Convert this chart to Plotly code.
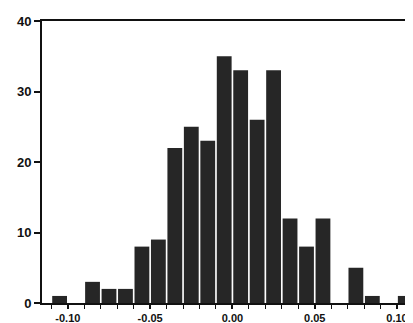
import plotly.graph_objects as go

# histogram bins (left edges) and counts
bin_left = [-0.11, -0.10, -0.09, -0.08, -0.07, -0.06, -0.05, -0.04, -0.03, -0.02, -0.01,
            0.00, 0.01, 0.02, 0.03, 0.04, 0.05, 0.06, 0.07, 0.08, 0.09, 0.10]
counts = [1, 0, 3, 2, 2, 8, 9, 22, 25, 23, 35,
          33, 26, 33, 12, 8, 12, 0, 5, 1, 0, 1]
bin_width = 0.01

x_tick_vals = [-0.10, -0.05, 0.00, 0.05, 0.10]
x_tick_text = ["-0.10", "-0.05", "0.00", "0.05", "0.10"]
y_tick_vals = [0, 10, 20, 30, 40]

centers = [b + bin_width / 2 for b in bin_left]

fig = go.Figure(go.Bar(
    x=centers, y=counts, width=bin_width * 0.9,
    marker=dict(color="#262626", line=dict(width=0)),
))

xfont = dict(family="Liberation Sans, Arial, sans-serif", size=11, color="#111111", weight="bold")

fig.update_layout(
    width=413, height=315,
    margin=dict(l=34, r=8, t=13, b=20),
    paper_bgcolor="white", plot_bgcolor="white",
    showlegend=False,
    font=xfont,
    xaxis=dict(
        range=[-0.1157, 0.1097], showgrid=False, zeroline=False, automargin=False,
        showline=True, linecolor="#111111", linewidth=2, mirror=True,
        ticks="outside", ticklen=4, tickwidth=1.5, tickcolor="#111111",
        tickvals=x_tick_vals, ticktext=x_tick_text,
        minor=dict(dtick=0.01, tick0=0, ticks="outside", ticklen=4, tickwidth=1.2, tickcolor="#111111"),
        tickfont=xfont, ticklabelstandoff=0,
    ),
    yaxis=dict(
        range=[0, 40], showgrid=False, zeroline=False, automargin=False,
        showline=True, linecolor="#111111", linewidth=2, mirror=False,
        ticks="outside", ticklen=6, tickwidth=1.5, tickcolor="#111111",
        tickvals=y_tick_vals,
        tickfont=dict(family="Liberation Sans, Arial, sans-serif", size=13, color="#111111", weight="bold"),
    ),
)

fig.write_html("out.html")
